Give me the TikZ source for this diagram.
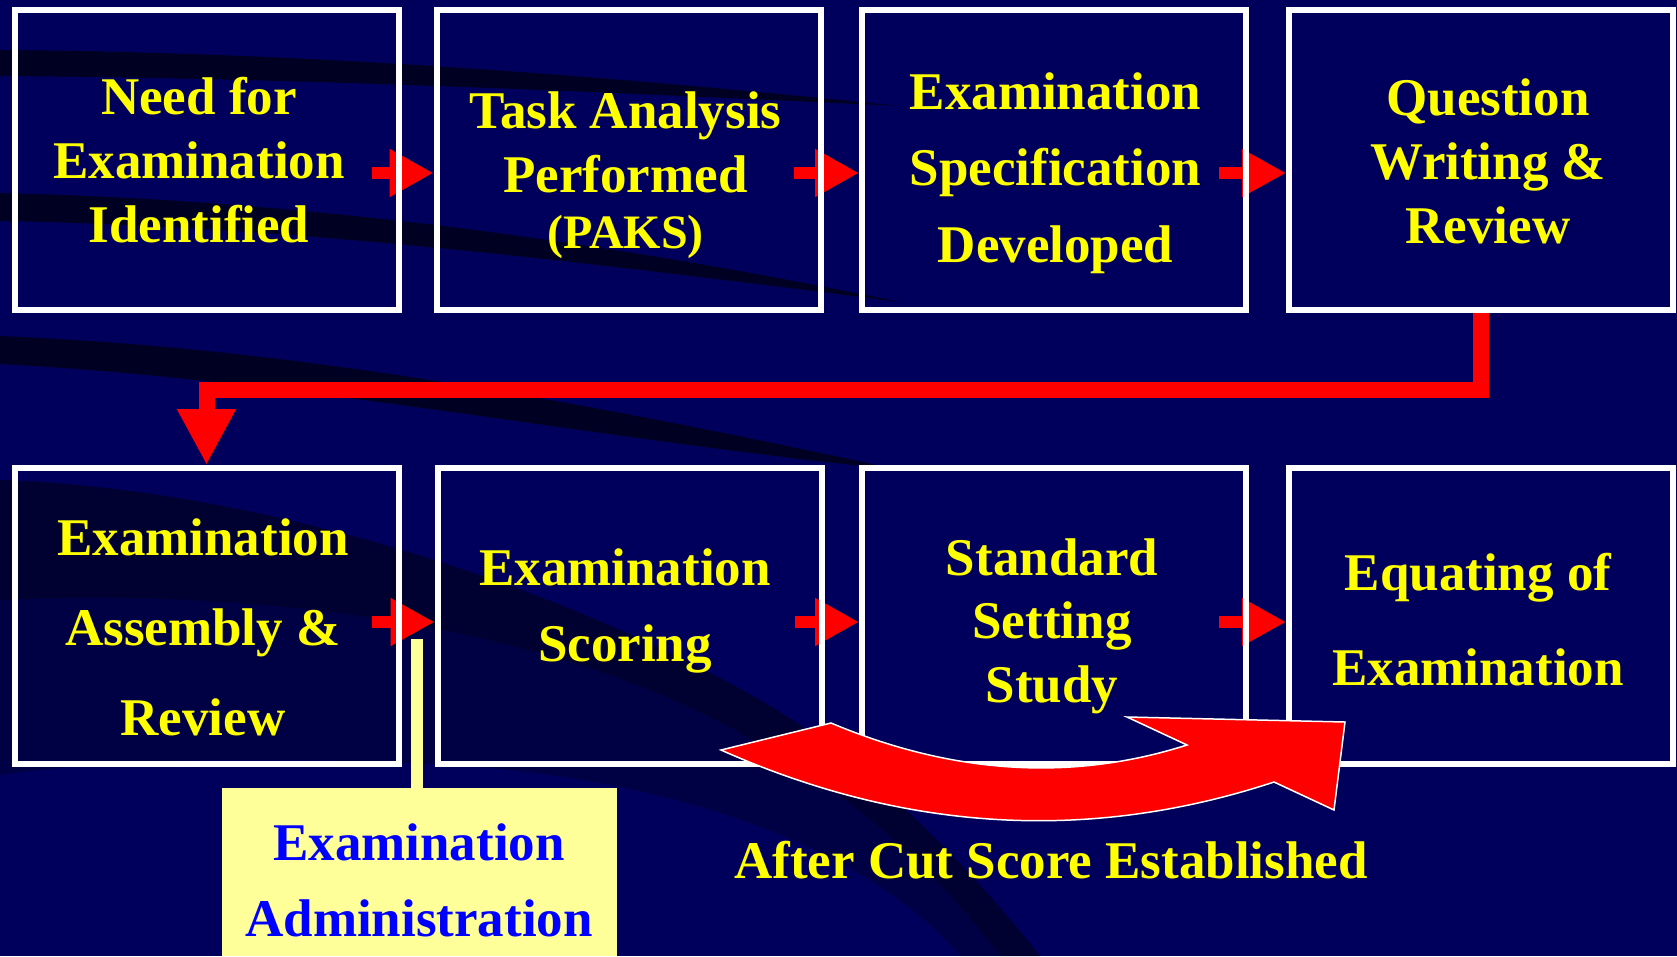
\documentclass[tikz,border=0pt]{standalone}
\usepackage{fontspec}
\setmainfont{Liberation Serif}
\usetikzlibrary{arrows.meta,calc}
\definecolor{navy}{RGB}{0,0,92}
\definecolor{deepnavy}{RGB}{0,0,26}
\definecolor{paleyellow}{RGB}{255,255,153}
\definecolor{textyellow}{RGB}{255,255,0}
\definecolor{arrowred}{RGB}{255,0,0}
\definecolor{textblue}{RGB}{0,0,255}
\tikzset{
  stepbox/.style={draw=white, line width=6pt, minimum width=384pt, inner sep=0pt},
  toprow/.style={stepbox, minimum height=300pt},
  botrow/.style={stepbox, minimum height=296pt},
  boxline/.style={draw=white, line width=6pt},
  steptext/.style={text=textyellow, text width=390pt, align=flush center, anchor=base, inner sep=0pt},
  smallarrow/.style={draw=arrowred, line width=12pt, -{Triangle[length=44pt,width=45pt]}},
  bigconn/.style={draw=arrowred, line width=16pt, line join=miter, -{Triangle[length=56pt,width=55pt]}},
  adminbox/.style={fill=paleyellow, minimum width=395pt, minimum height=168pt, inner sep=0pt},
  adminline/.style={draw=paleyellow, line width=12pt},
  band/.style={fill=deepnavy},
  curvearrow/.style={fill=arrowred, draw=white, line width=1.5pt, line join=miter}
}
\begin{document}
\begin{tikzpicture}[x=1pt,y=-1pt]
\useasboundingbox (0,0) rectangle (1677,956);
\fill[navy] (0,0) rectangle (1677,956);
% background swooshes
\fill[band, opacity=0.85] (0,50) .. controls (300,52) and (600,75) .. (900,106) .. controls (600,92) and (300,78) .. (0,76) -- cycle;
\fill[band, opacity=0.85] (0,193) .. controls (300,200) and (600,240) .. (900,302) .. controls (600,264) and (300,226) .. (0,221) -- cycle;
\fill[band, opacity=0.85] (0,336) .. controls (300,348) and (600,405) .. (900,470) .. controls (600,440) and (300,380) .. (0,364) -- cycle;
\fill[band, opacity=0.35] (0,480) .. controls (250,488) and (550,580) .. (760,700) .. controls (880,770) and (980,880) .. (1040,956) -- (960,956) .. controls (880,860) and (700,780) .. (450,765) .. controls (250,755) and (100,760) .. (0,775) -- cycle;
\fill[band, opacity=0.45] (0,480) .. controls (250,488) and (550,580) .. (760,700) .. controls (880,770) and (980,880) .. (1040,956) -- (1000,956) .. controls (930,860) and (820,760) .. (650,690) .. controls (450,610) and (200,590) .. (0,600) -- cycle;

% boxes
\node[toprow] (b1) at (206.5,160) {};
\node[toprow] (b2) at (628.5,160) {};
\node[toprow] (b3) at (1054,160) {};
\node[toprow] (b4) at (1481,160) {};
\node[botrow] (b5) at (206.5,616) {};
\node[botrow] (b6) at (629.5,616) {};
\node[botrow] (b7) at (1054,616) {};
\node[botrow] (b8) at (1481,616) {};

% small arrows
\draw[smallarrow] ([shift={(-30pt,-13pt)}]b1.east) -- ([yshift=-13pt]b2.west);
\draw[smallarrow] ([shift={(-30pt,-13pt)}]b2.east) -- ([yshift=-13pt]b3.west);
\draw[smallarrow] ([shift={(-30pt,-13pt)}]b3.east) -- ([yshift=-13pt]b4.west);
\draw[smallarrow] ([shift={(-30pt,-6pt)}]b5.east) -- ([yshift=-6pt]b6.west);
\draw[smallarrow] ([shift={(-30pt,-6pt)}]b6.east) -- ([yshift=-6pt]b7.west);
\draw[smallarrow] ([shift={(-30pt,-6pt)}]b7.east) -- ([yshift=-6pt]b8.west);

% box borders again, over the small arrows
\foreach \b in {b1,b2,b3,b4,b5,b6,b7,b8}{
  \draw[boxline] ([shift={(3pt,-3pt)}]\b.north west) rectangle ([shift={(-3pt,3pt)}]\b.south east);
}

% connector from row 1 to row 2
\draw[bigconn] (b4.south) -- ++(0,77) -| (b5.north);

% texts
\node[steptext, font=\bfseries\fontsize{53}{64}\selectfont] (t1) at (199,114) {Need for\\Examination\\Identified};
\node[steptext, font=\bfseries\fontsize{53}{64}\selectfont] (t2) at (625.5,128) {Task Analysis\\Performed\\[-8pt]{\fontsize{48}{56}\selectfont (PAKS)}};
\node[steptext, font=\bfseries\fontsize{53}{76.5}\selectfont] (t3) at (1055.5,109) {Examination\\Specification\\Developed};
\node[steptext, font=\bfseries\fontsize{53}{64}\selectfont] (t4) at (1488,115) {Question\\Writing \&\\Review};
\node[steptext, font=\bfseries\fontsize{53}{90}\selectfont] (t5) at (203,555) {Examination\\Assembly \&\\Review};
\node[steptext, font=\bfseries\fontsize{53}{76}\selectfont] (t6) at (625,585) {Examination\\Scoring};
\node[steptext, font=\bfseries\fontsize{53}{63.5}\selectfont] (t7) at (1052,575) {Standard\\Setting\\Study};
\node[steptext, font=\bfseries\fontsize{53}{95}\selectfont] (t8) at (1478,590) {Equating of\\Examination};

% curved arrow
\filldraw[curvearrow] (1187,745) -- (1127,717) -- (1345,722) -- (1334,810) -- (1274,782)
  .. controls (1089.7,842.7) and (905.3,832) .. (721,750) -- (831,723)
  .. controls (953,774.3) and (1071.7,781.7) .. (1187,745) -- cycle;
\node[steptext, text width=700pt, font=\bfseries\fontsize{53}{64}\selectfont] (cut) at (1051,878) {After Cut Score Established};

% administration box
\node[adminbox] (adm) at (419.5,872) {};
\coordinate (admtop) at (417,639);
\draw[adminline] (admtop) -- (admtop |- adm.north);
\node[steptext, text=textblue, font=\bfseries\fontsize{53}{76}\selectfont] (admtext) at (419,860) {Examination\\Administration};
\end{tikzpicture}
\end{document}
